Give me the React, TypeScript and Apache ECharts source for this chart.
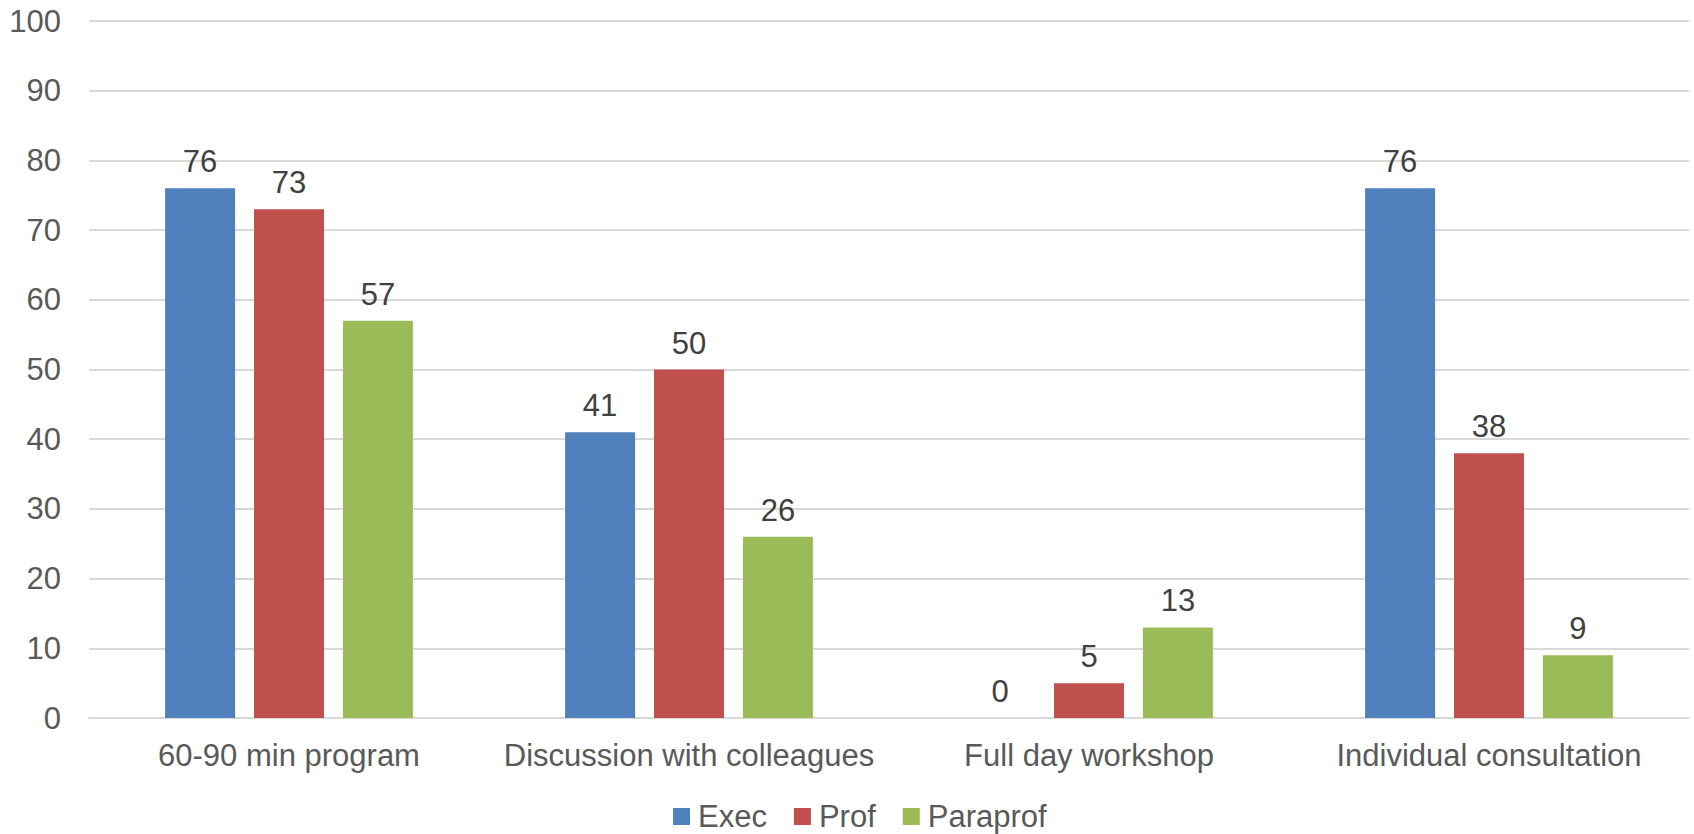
import React, { useEffect, useRef } from "react";
import * as echarts from "echarts";

const categories = [
  "60-90 min program",
  "Discussion with colleagues",
  "Full day workshop",
  "Individual consultation",
];
const execValues = [76, 41, 0, 76];
const profValues = [73, 50, 5, 38];
const paraprofValues = [57, 26, 13, 9];
const yTicks = [0, 10, 20, 30, 40, 50, 60, 70, 80, 90, 100];

const FONT = "'Liberation Sans', Arial, Helvetica, sans-serif";
const AXIS_TEXT = "#595959";
const LABEL_TEXT = "#404040";
const GRID_LINE = "#D9D9D9";

export default function App() {
  const ref = useRef<HTMLDivElement>(null);

  useEffect(() => {
    document.body.style.margin = "0";
    if (!ref.current) return;
    const chart = echarts.init(ref.current, undefined, { renderer: "svg" });

    const makeSeries = (name: string, data: number[], color: string) => ({
      name,
      type: "bar",
      data,
      barWidth: 70,
      barGap: "27%",
      itemStyle: { color },
      label: {
        show: true,
        position: "top",
        distance: 11,
        color: LABEL_TEXT,
        fontSize: 31,
        fontFamily: FONT,
      },
    });

    chart.setOption({
      animation: false,
      textStyle: { fontFamily: FONT },
      grid: { left: 89, right: 5, top: 21, bottom: 116, containLabel: false },
      legend: {
        top: 801,
        left: 673,
        padding: 0,
        itemWidth: 17,
        itemHeight: 17,
        itemGap: 27,
        icon: "rect",
        textStyle: {
          color: AXIS_TEXT,
          fontSize: 31,
          lineHeight: 31,
          fontFamily: FONT,
          padding: [0, 0, 0, 3],
        },
        data: ["Exec", "Prof", "Paraprof"],
      },
      xAxis: {
        type: "category",
        data: categories,
        axisLine: { show: true, lineStyle: { color: GRID_LINE, width: 2 } },
        axisTick: { show: false },
        axisLabel: { color: AXIS_TEXT, fontSize: 31, fontFamily: FONT, margin: 22, interval: 0 },
      },
      yAxis: {
        type: "value",
        min: yTicks[0],
        max: yTicks[yTicks.length - 1],
        interval: 10,
        axisLine: { show: false },
        axisTick: { show: false },
        axisLabel: { color: AXIS_TEXT, fontSize: 31, fontFamily: FONT, margin: 28 },
        splitLine: { lineStyle: { color: GRID_LINE, width: 2 } },
      },
      series: [
        makeSeries("Exec", execValues, "#4F81BD"),
        makeSeries("Prof", profValues, "#C0504D"),
        makeSeries("Paraprof", paraprofValues, "#9BBB59"),
      ],
    });

    return () => chart.dispose();
  }, []);

  return (
    <div
      ref={ref}
      style={{ position: "fixed", left: 0, top: 0, width: 1694, height: 834, background: "#fff" }}
    />
  );
}
